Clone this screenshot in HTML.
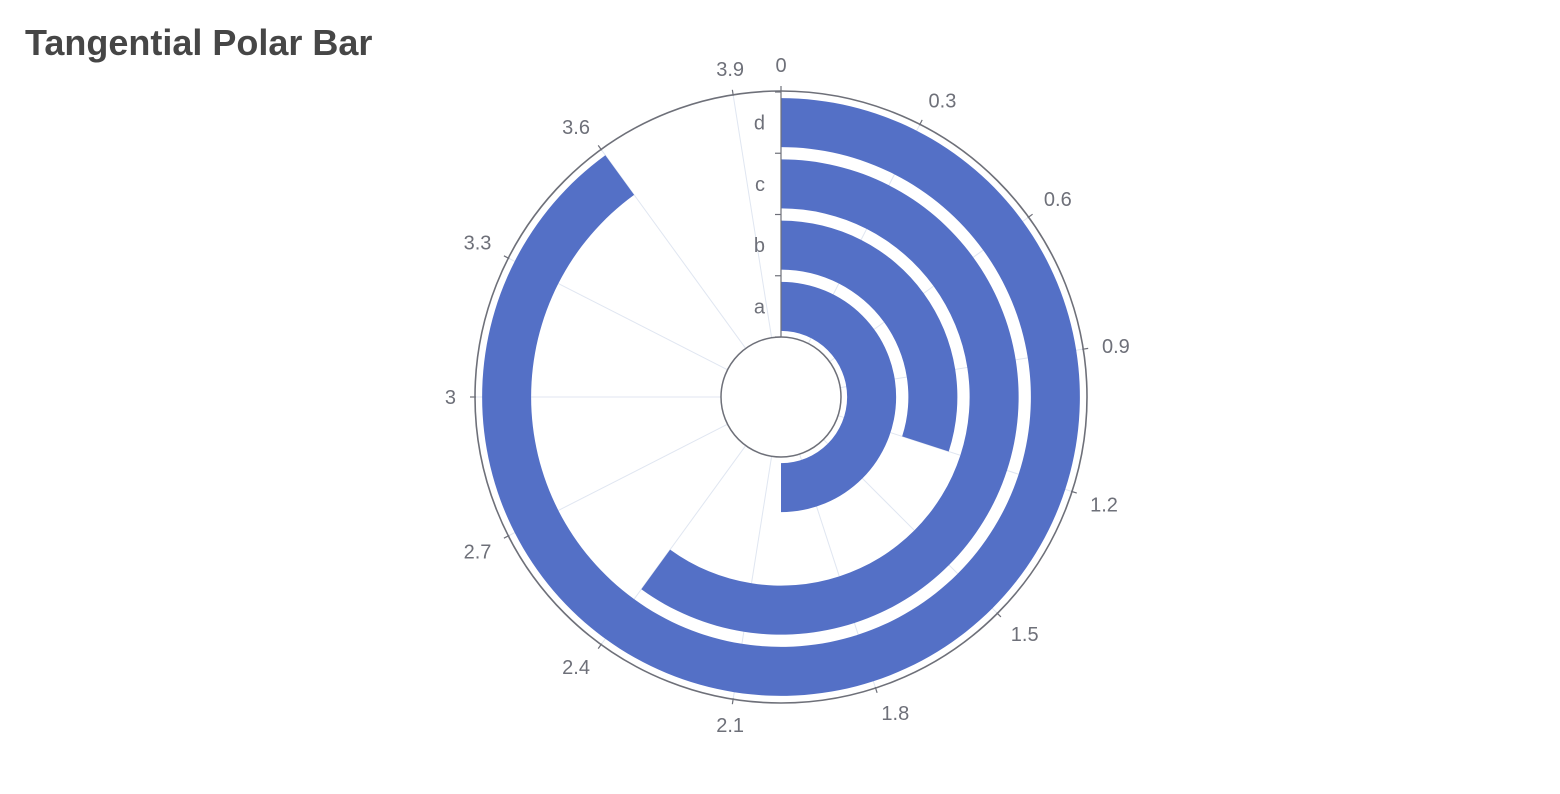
<!DOCTYPE html>
<html><head><meta charset="utf-8"><style>
html,body{margin:0;padding:0;background:#fff;}
svg{display:block;font-family:"Liberation Sans",sans-serif;}
</style></head><body>
<svg id="chart" width="1560" height="794">
<text x="25" y="55" font-size="36" font-weight="bold" fill="#464646">Tangential Polar Bar</text>
<g id="grid"></g><g id="bars"></g><g id="axes"></g>
</svg>
<script>
const categories = ['a','b','c','d'];
const values = [2, 1.2, 2.4, 3.6];
const angleTicks = ['0','0.3','0.6','0.9','1.2','1.5','1.8','2.1','2.4','2.7','3','3.3','3.6','3.9'];
const angleMax = 4;
const angleStep = 0.3;

const NS='http://www.w3.org/2000/svg';
const cx=781, cy=397, r0=60, r1=305;
const band=(r1-r0)/categories.length;
function ang(v){return v/angleMax*2*Math.PI;}
function pt(r,v){const a=ang(v);return [cx+r*Math.sin(a), cy-r*Math.cos(a)];}
function rad(i){return r0+band*(i+0.5);}
function mk(tag,attrs,parent){const e=document.createElementNS(NS,tag);for(const k in attrs)e.setAttribute(k,attrs[k]);parent.appendChild(e);return e;}
const grid=document.getElementById('grid'),bars=document.getElementById('bars'),axes=document.getElementById('axes');

angleTicks.forEach((t,i)=>{
  const v=i*angleStep;
  const [x1,y1]=pt(r0,v),[x2,y2]=pt(r1,v);
  const l=mk('line',{x1,y1,x2,y2,stroke:'#E0E6F1','stroke-width':1},grid);
  
  
  const [tx1,ty1]=pt(r1,v),[tx2,ty2]=pt(r1+6,v);
  const tk=mk('line',{x1:tx1,y1:ty1,x2:tx2,y2:ty2,stroke:'#6E7079','stroke-width':1.2},axes);
  
  
  const a=ang(v), s=Math.sin(a), c=Math.cos(a);
  const [lx,ly]=pt(r1+20,v);
  const anchor=Math.abs(s)<0.2?'middle':(s>0?'start':'end');
  const dy=Math.abs(c)<0.2?7:(c>0?0:14);
  const tx=mk('text',{x:lx,y:ly+dy,'text-anchor':anchor,'font-size':20,fill:'#6E7079'},axes);
  tx.textContent=t;
  
  
});

values.forEach((val,i)=>{
  const c=rad(i), h=band*0.8/2, ri=c-h, ro=c+h;
  const [ax,ay]=pt(ro,0),[bx,by]=pt(ro,val),[cx2,cy2]=pt(ri,val),[dx,dy]=pt(ri,0);
  const large=val/angleMax>0.5?1:0;
  const d=`M${ax},${ay} A${ro},${ro} 0 ${large} 1 ${bx},${by} L${cx2},${cy2} A${ri},${ri} 0 ${large} 0 ${dx},${dy} Z`;
  const p=mk('path',{d,fill:'#5470c6'},bars);
  
  
});

let c1=mk('circle',{cx,cy,r:r1+1,fill:'none',stroke:'#6E7079','stroke-width':1.6},axes);


let c0=mk('circle',{cx,cy,r:r0,fill:'none',stroke:'#6E7079','stroke-width':1.5},axes);


let ra=mk('line',{x1:cx,y1:cy-r0,x2:cx,y2:cy-r1,stroke:'#6E7079','stroke-width':1.2},axes);


for(let i=0;i<=categories.length;i++){
  const y=cy-(r0+band*i);
  const t=mk('line',{x1:cx-6,y1:y,x2:cx,y2:y,stroke:'#6E7079','stroke-width':1.2},axes);
  
  
}
categories.forEach((c,i)=>{
  const t=mk('text',{x:cx-16,y:cy-rad(i)+7,'text-anchor':'end','font-size':20,fill:'#6E7079'},axes);
  t.textContent=c;
  
  
});
</script>
</body></html>
